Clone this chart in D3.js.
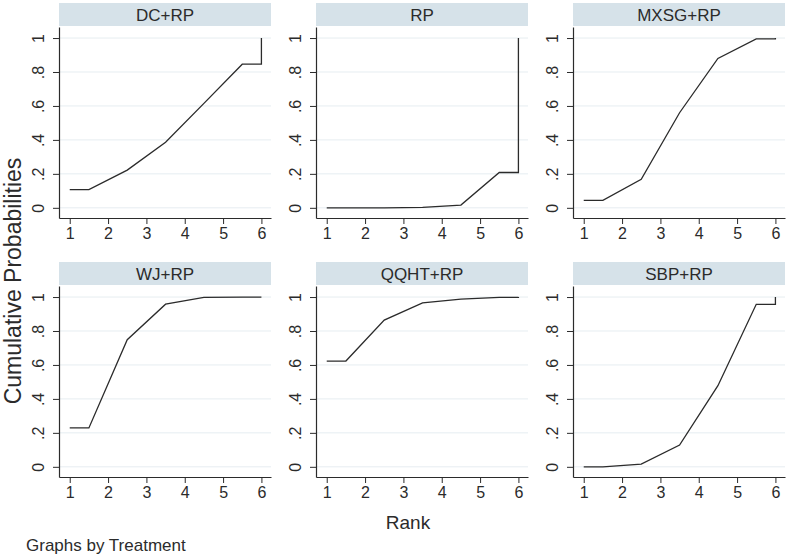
<!DOCTYPE html>
<html>
<head>
<meta charset="utf-8">
<script src="https://cdn.jsdelivr.net/npm/d3@7"></script>
<style>
  html, body { margin: 0; padding: 0; background: #fff; }
  svg { display: block; font-family: Arial, "Liberation Sans", sans-serif; }
</style>
</head>
<body>
<svg id="chart" width="787" height="557"></svg>
<script>
// ---- data ----
const treatments = ["DC+RP", "RP", "MXSG+RP", "WJ+RP", "QQHT+RP", "SBP+RP"];
const ranks = [1, 2, 3, 4, 5, 6];
const cumDCRP   = [0.107, 0.222, 0.386, 0.615, 0.846, 1.0];
const cumRP     = [0.0,   0.0,   0.003, 0.016, 0.208, 1.0];
const cumMXSG   = [0.044, 0.168, 0.560, 0.880, 0.995, 1.0];
const cumWJ     = [0.229, 0.749, 0.958, 0.998, 1.0,   1.0];
const cumQQHT   = [0.623, 0.864, 0.966, 0.988, 0.998, 1.0];
const cumSBP    = [0.0,   0.016, 0.128, 0.478, 0.957, 1.0];
const series = [cumDCRP, cumRP, cumMXSG, cumWJ, cumQQHT, cumSBP];
const yTicks = [0, 0.2, 0.4, 0.6, 0.8, 1];
const yTickLabels = ["0", ".2", ".4", ".6", ".8", "1"];
const xTicks = [1, 2, 3, 4, 5, 6];

// ---- layout ----
const svg = d3.select("#chart");
const colLeft = [59, 316, 573];
const panelW = 212;
const rowStripTop = [3, 262];
const stripH = 23;
const plotH = 191;

const ink = "#2b2b2b";
const stripFill = "#d6e2e9";
const gridColor = "#e6edf1";

function buildPoints(c) {
  // Stata-style cumulative ranking curve: flat start, midpoints between ranks, vertical finish
  const pts = [{x: ranks[0], y: c[0]}, {x: ranks[0] + 0.5, y: c[0]}];
  for (let k = 1; k < ranks.length - 1; k++) pts.push({x: ranks[k] + 0.5, y: c[k]});
  const last = ranks.length - 1;
  pts.push({x: ranks[last], y: c[last - 1]});
  pts.push({x: ranks[last], y: c[last]});
  return pts;
}

treatments.forEach((name, i) => {
  const col = i % 3, row = Math.floor(i / 3);
  const left = colLeft[col];
  const stripTop = rowStripTop[row];
  const plotTop = stripTop + stripH + 1;
  const plotBottom = plotTop + plotH;

  const x = d3.scaleLinear().domain([0.72, 6.25]).range([left, left + panelW]);
  const y = d3.scaleLinear().domain([-0.06, 1.065]).range([plotBottom, plotTop]);

  const g = svg.append("g");

  // strip
  g.append("rect").attr("x", left).attr("y", stripTop).attr("width", panelW).attr("height", stripH)
    .attr("fill", stripFill);
  g.append("text").attr("x", left + panelW / 2).attr("y", stripTop + stripH / 2 + 6)
    .attr("text-anchor", "middle").attr("font-size", 17).attr("fill", ink).text(name);

  // grid
  g.selectAll("line.grid").data(yTicks).enter().append("line")
    .attr("x1", left).attr("x2", left + panelW)
    .attr("y1", d => y(d)).attr("y2", d => y(d))
    .attr("stroke", gridColor).attr("stroke-width", 1);

  // y axis
  const yAxis = d3.axisLeft(y).tickValues(yTicks).tickSize(6).tickSizeOuter(0).tickFormat((d, j) => yTickLabels[j]);
  const ya = g.append("g").attr("transform", `translate(${left},0)`).call(yAxis);
  ya.select(".domain").attr("stroke", ink).attr("stroke-width", 1.2);
  ya.selectAll(".tick line").attr("stroke", ink);
  ya.selectAll(".tick text").attr("font-size", 16).attr("fill", ink)
    .attr("x", 0).attr("y", 0).attr("dy", 0)
    .attr("text-anchor", "middle")
    .attr("transform", "translate(-15,0) rotate(-90)");
  ya.attr("font-family", null);

  // x axis
  const xAxis = d3.axisBottom(x).tickValues(xTicks).tickSize(6).tickSizeOuter(0).tickFormat(d3.format("d"));
  const xa = g.append("g").attr("transform", `translate(0,${plotBottom})`).call(xAxis);
  xa.select(".domain").attr("stroke", ink).attr("stroke-width", 1.2);
  xa.selectAll(".tick line").attr("stroke", ink);
  xa.selectAll(".tick text").attr("font-size", 16).attr("fill", ink).attr("y", 10);
  xa.attr("font-family", null);

  // line
  const line = d3.line().x(d => x(d.x)).y(d => y(d.y));
  g.append("path").datum(buildPoints(series[i]))
    .attr("d", line).attr("fill", "none").attr("stroke", ink).attr("stroke-width", 1.3);
});

// global labels
svg.append("text").attr("x", 408).attr("y", 529).attr("text-anchor", "middle")
  .attr("font-size", 19).attr("fill", ink).text("Rank");
svg.append("text").attr("transform", "translate(21,281) rotate(-90)").attr("text-anchor", "middle")
  .attr("font-size", 23).attr("fill", ink).text("Cumulative Probabilities");
svg.append("text").attr("x", 26).attr("y", 551)
  .attr("font-size", 17).attr("fill", ink).text("Graphs by Treatment");
</script>
</body>
</html>
